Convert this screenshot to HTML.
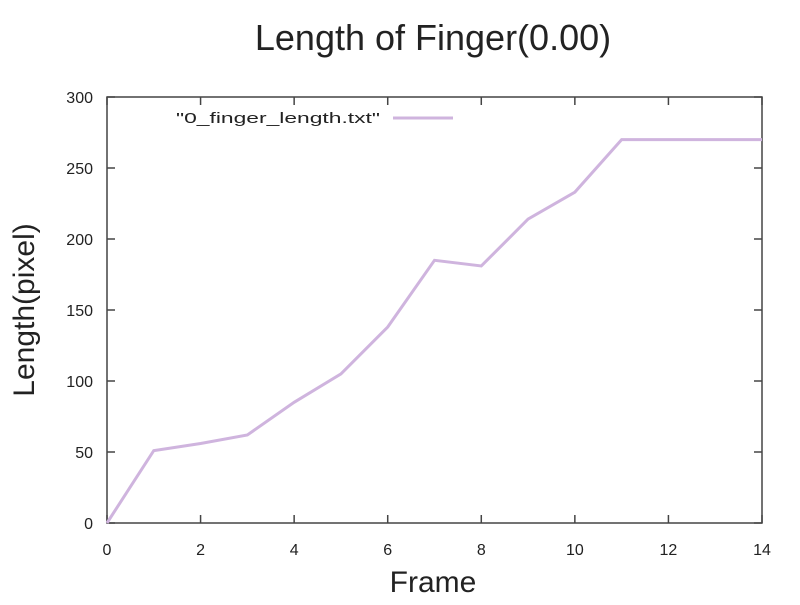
<!DOCTYPE html>
<html><head><meta charset="utf-8"><style>
body{margin:0;background:#fff;}
svg text{font-family:"Liberation Sans",sans-serif;fill:#222;}
</style></head><body>
<svg width="800" height="600">
<text x="433" y="50" font-size="36" text-anchor="middle">Length of Finger(0.00)</text>
<text x="433" y="592" font-size="30" text-anchor="middle">Frame</text>
<text transform="translate(34,310) rotate(-90)" font-size="30" text-anchor="middle">Length(pixel)</text>
<g id="ticks"></g>
<rect x="107" y="97" width="655" height="426" fill="none" stroke="#444" stroke-width="1.5"/>
<text x="176" y="123" font-size="15" textLength="204" lengthAdjust="spacingAndGlyphs">"0_finger_length.txt"</text>
<line x1="393" y1="118" x2="453" y2="118" stroke="#cfb4de" stroke-width="3"/>
<polyline id="line" fill="none" stroke="#cfb4de" stroke-width="3"/>
</svg>
<script>
const frames=[0,1,2,3,4,5,6,7,8,9,10,11,12,13,14];
const lengths=[0,51,56,62,85,105,138,185,181,214,233,270,270,270,270];
const xTicks=[0,2,4,6,8,10,12,14];
const yTicks=[0,50,100,150,200,250,300];
const X0=107,X1=762,Y0=523,Y1=97;
const xs=v=>X0+(v-0)/(14-0)*(X1-X0);
const ys=v=>Y0-(v-0)/(300-0)*(Y0-Y1);
const NS="http://www.w3.org/2000/svg";
const g=document.getElementById('ticks');
function mk(t,a){const e=document.createElementNS(NS,t);for(const k in a)e.setAttribute(k,a[k]);g.appendChild(e);return e;}
xTicks.forEach(v=>{
 const l=mk('line',{x1:xs(v),x2:xs(v),y1:Y0,y2:Y0-8,stroke:'#444','stroke-width':1.5});
 
 
 const l2=mk('line',{x1:xs(v),x2:xs(v),y1:Y1,y2:Y1+8,stroke:'#444','stroke-width':1.5});
 
 
 const t=mk('text',{x:xs(v),y:Y0+32,'font-size':16,'text-anchor':'middle'});t.textContent=v;
 
 
});
yTicks.forEach(v=>{
 const l=mk('line',{x1:X0,x2:X0+8,y1:ys(v),y2:ys(v),stroke:'#444','stroke-width':1.5});
 
 
 const l2=mk('line',{x1:X1,x2:X1-8,y1:ys(v),y2:ys(v),stroke:'#444','stroke-width':1.5});
 
 
 const t=mk('text',{x:X0-14,y:ys(v)+6,'font-size':16,'text-anchor':'end'});t.textContent=v;
 
 
});
document.getElementById('line').setAttribute('points',frames.map((f,i)=>xs(f)+','+ys(lengths[i])).join(' '));
</script>
</body></html>
